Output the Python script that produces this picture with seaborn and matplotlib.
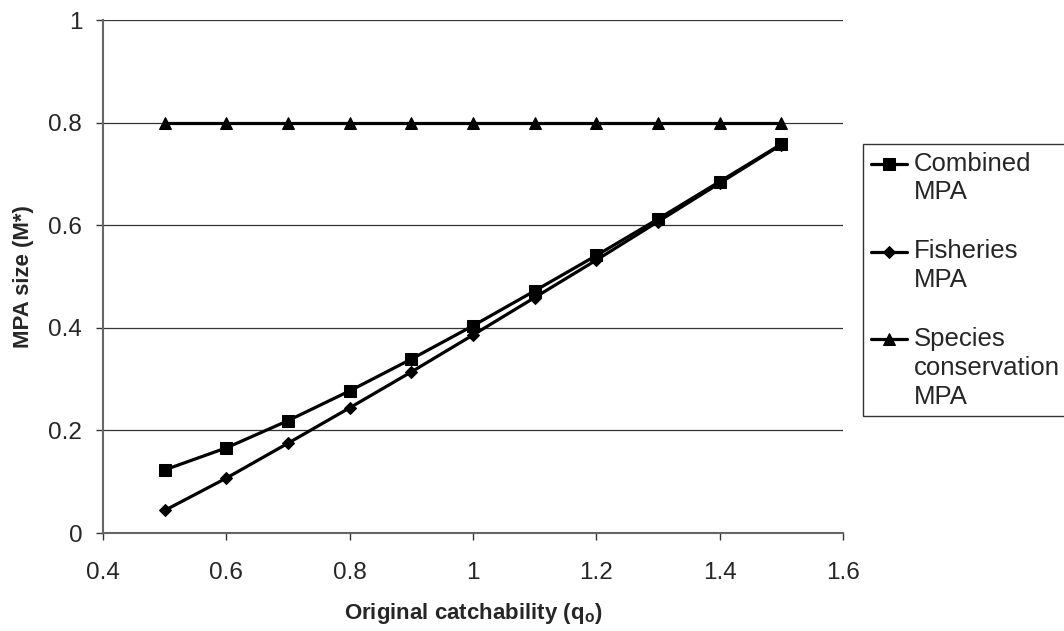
import matplotlib
matplotlib.use("Agg")
import matplotlib.pyplot as plt
from matplotlib.legend_handler import HandlerLine2D
import seaborn as sns
import pandas as pd

q_values = [0.5, 0.6, 0.7, 0.8, 0.9, 1.0, 1.1, 1.2, 1.3, 1.4, 1.5]
combined = [0.123, 0.166, 0.219, 0.277, 0.339, 0.404, 0.472, 0.541, 0.612, 0.685, 0.758]
fisheries = [0.044, 0.107, 0.175, 0.244, 0.314, 0.386, 0.459, 0.532, 0.607, 0.682, 0.757]
species = [0.8, 0.8, 0.8, 0.8, 0.8, 0.8, 0.8, 0.8, 0.8, 0.8, 0.8]
series_names = ["Combined\nMPA", "Fisheries\nMPA", "Species\nconservation\nMPA"]
x_tick_labels = ["0.4", "0.6", "0.8", "1", "1.2", "1.4", "1.6"]
y_tick_labels = ["0", "0.2", "0.4", "0.6", "0.8", "1"]

sns.set_style("white")
plt.rcParams['font.family'] = ['Liberation Sans', 'DejaVu Sans']

df = pd.DataFrame({
    "q": q_values * 3,
    "M": combined + fisheries + species,
    "series": [series_names[0]] * 11 + [series_names[1]] * 11 + [series_names[2]] * 11,
})

fig = plt.figure(figsize=(10.64, 6.31), dpi=100)
ax = fig.add_axes([0.0968, 0.1553, 0.6955, 0.813])

markers = {series_names[0]: "s", series_names[1]: "D", series_names[2]: "^"}
sizes = {series_names[0]: 8.0, series_names[1]: 6.0, series_names[2]: 8.0}
for name in series_names:
    sub = df[df["series"] == name]
    sns.lineplot(data=sub, x="q", y="M", ax=ax, color="black", linewidth=2.3,
                 marker=markers[name], markersize=sizes[name], markeredgecolor="black",
                 label=name, estimator=None, sort=False)

ax.set_xlim(0.4, 1.6)
ax.set_ylim(0, 1)
ax.set_xticks([0.4, 0.6, 0.8, 1.0, 1.2, 1.4, 1.6])
ax.set_xticklabels(x_tick_labels)
ax.set_yticks([0, 0.2, 0.4, 0.6, 0.8, 1.0])
ax.set_yticklabels(y_tick_labels)
ax.yaxis.grid(True, color="#333333", linewidth=0.9)
ax.xaxis.grid(False)
ax.set_axisbelow(True)
for s in ["top", "right"]:
    ax.spines[s].set_visible(False)
for s in ["left", "bottom"]:
    ax.spines[s].set_color("#666666")
    ax.spines[s].set_linewidth(1.5)
ax.tick_params(axis="both", which="both", direction="out", length=5, width=1,
               color="#333333", labelsize=17.5, bottom=True, left=True)
ax.tick_params(axis="x", pad=16)
ax.tick_params(axis="y", pad=10)

ax.set_xlabel("Original catchability (q$_\\mathregular{o}$)", fontsize=16, fontweight="bold", labelpad=12)
ax.set_ylabel("MPA size (M*)", fontsize=16, fontweight="bold", labelpad=10)


class TopLineHandler(HandlerLine2D):
    """Place the legend key next to the first text line of a multi-line label."""
    def __init__(self, shift_pts, **kw):
        super().__init__(**kw)
        self.shift_pts = shift_pts

    def create_artists(self, legend, orig_handle, xdescent, ydescent, width, height, fontsize, trans):
        return super().create_artists(legend, orig_handle, xdescent, ydescent - 2 * self.shift_pts,
                                      width, height, fontsize, trans)


line_pitch_pts = 29 * 72 / 100
handles, labels = ax.get_legend_handles_labels()
hmap = {h: TopLineHandler((lab.count("\n")) / 2 * line_pitch_pts) for h, lab in zip(handles, labels)}

leg = ax.legend(handles, labels, handler_map=hmap,
                loc="upper left", bbox_to_anchor=(863 / 1064, 1 - 144 / 631),
                bbox_transform=fig.transFigure, frameon=True, fancybox=False,
                fontsize=18.5, handlelength=1.4, handletextpad=0.27, labelspacing=1.36,
                borderpad=0.3, borderaxespad=0)
leg.get_frame().set_edgecolor("black")
leg.get_frame().set_linewidth(1.0)
for t in leg.get_texts():
    t.set_linespacing(1.25)

fig.savefig("out.png", dpi=100)
